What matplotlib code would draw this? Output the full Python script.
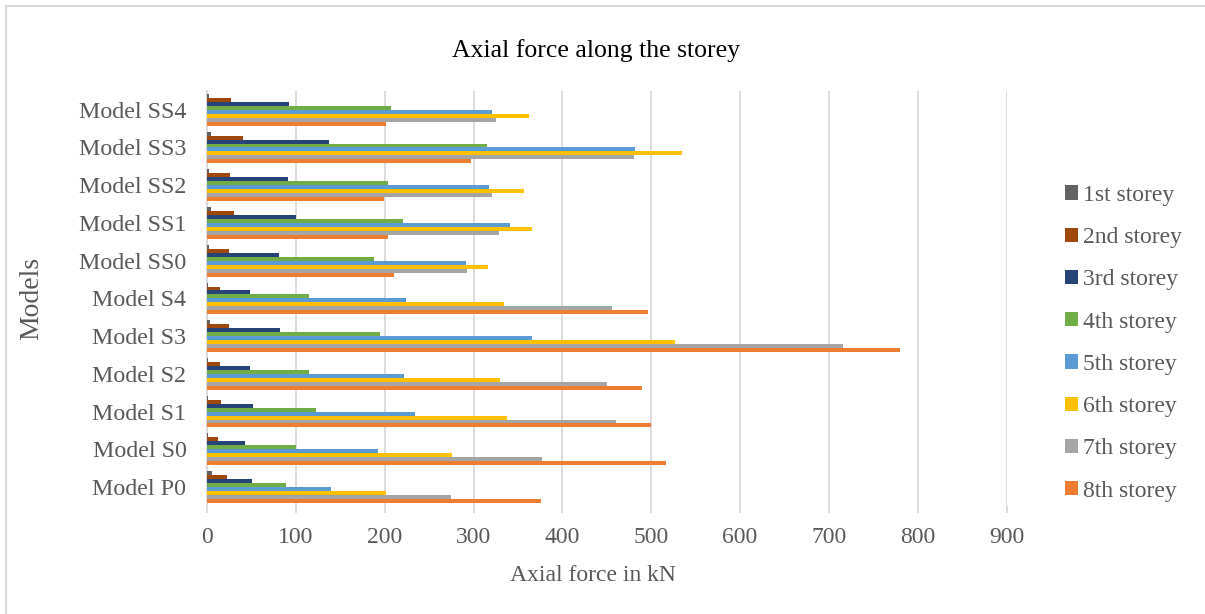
import numpy as np
import matplotlib.pyplot as plt
from matplotlib.lines import Line2D

plt.rcParams['font.family'] = ['Liberation Serif', 'DejaVu Serif']

models = ['Model P0', 'Model S0', 'Model S1', 'Model S2', 'Model S3', 'Model S4',
          'Model SS0', 'Model SS1', 'Model SS2', 'Model SS3', 'Model SS4']
storeys = ['1st storey', '2nd storey', '3rd storey', '4th storey',
           '5th storey', '6th storey', '7th storey', '8th storey']

# axial force (kN) per storey, in the same order as models
s1 = [5, 1, 1, 1, 3, 1, 2, 4, 2, 4, 2]
s2 = [22, 12, 15, 14, 25, 14, 24, 30, 26, 40, 27]
s3 = [50, 42, 52, 48, 82, 48, 81, 100, 91, 137, 92]
s4 = [89, 100, 122, 114, 195, 115, 188, 220, 204, 315, 207]
s5 = [139, 192, 234, 221, 366, 224, 291, 341, 317, 482, 321]
s6 = [201, 276, 337, 330, 527, 334, 316, 366, 357, 535, 362]
s7 = [274, 377, 460, 450, 716, 456, 292, 329, 321, 480, 325]
s8 = [376, 517, 500, 489, 780, 496, 210, 204, 199, 297, 201]
series = [s1, s2, s3, s4, s5, s6, s7, s8]

colors = ['#636363', '#9E480E', '#264478', '#70AD47',
          '#5B9BD5', '#FFC000', '#A5A5A5', '#ED7D31']
txt = '#595959'
grid = '#d9d9d9'

fig = plt.figure(figsize=(12.05, 6.14), dpi=100)
ax = fig.add_axes([0.172, 0.176, 0.6633, 0.676])

y = np.arange(len(models))
h = 0.105
for i, vals in enumerate(series):
    ax.barh(y + (3.5 - i) * h, vals, height=h, color=colors[i],
            label=storeys[i], zorder=3)

ax.set_xlim(0, 900)
ax.set_ylim(-0.5, len(models) - 0.5)
ax.set_xticks(np.arange(0, 901, 100))
ax.set_yticks(y)
ax.set_yticklabels(models)
ax.xaxis.grid(True, color=grid, linewidth=1.3, zorder=0)
for side in ['top', 'right', 'bottom']:
    ax.spines[side].set_visible(False)
ax.spines['left'].set_color(grid)
ax.spines['left'].set_linewidth(1.3)
ax.tick_params(axis='x', colors=grid, labelcolor=txt, labelsize=17,
               length=5, width=1.3, pad=10)
ax.tick_params(axis='y', length=0, labelcolor=txt, labelsize=17.3, pad=15)

ax.set_xlabel('Axial force in kN', fontsize=17, color=txt)
ax.xaxis.set_label_coords(0.483, -0.143)
ax.set_ylabel('Models', fontsize=20, color=txt)
ax.yaxis.set_label_coords(-0.204, 0.5)
fig.text(0.495, 0.918, 'Axial force along the storey', fontsize=18.5,
         color='black', ha='center', va='center')

leg = ax.legend(loc='center left', bbox_to_anchor=(1.046, 0.392), frameon=False,
                fontsize=17, labelcolor=txt, handlelength=0.55,
                handleheight=0.55, handletextpad=0.25, labelspacing=0.9)

# chart border
fig.add_artist(Line2D([0.005, 0.005], [0, 0.99], color=grid, lw=1.5,
                      transform=fig.transFigure))
fig.add_artist(Line2D([0.005, 1], [0.99, 0.99], color=grid, lw=1.5,
                      transform=fig.transFigure))

fig.savefig('out.png', dpi=100)
